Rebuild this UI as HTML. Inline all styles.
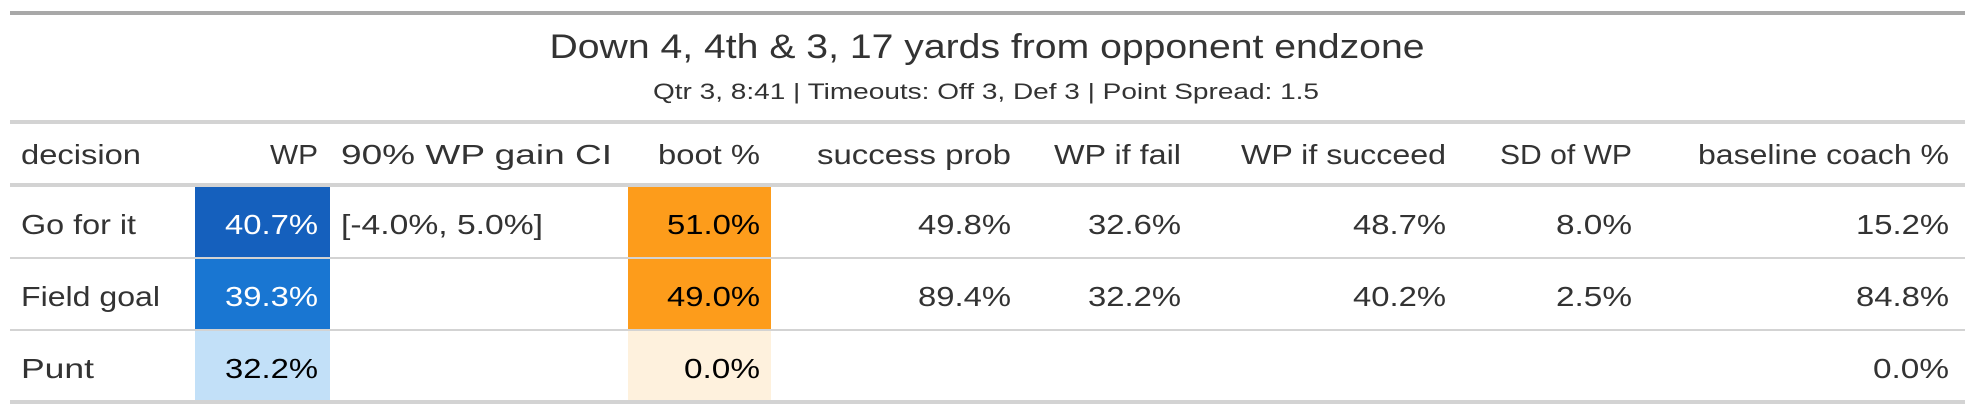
<!DOCTYPE html>
<html><head><meta charset="utf-8"><style>
html,body{margin:0;padding:0;background:#fff;}
svg{display:block;font-family:"Liberation Sans",Arial,sans-serif;}
</style></head><body>
<svg id="tbl" width="1972" height="412" viewBox="0 0 1972 412" xmlns="http://www.w3.org/2000/svg">
<rect x="10" y="11" width="1955" height="4" fill="#a8a8a8"/>
<text x="987" y="58" text-anchor="middle" font-size="34" fill="#333" textLength="875" lengthAdjust="spacingAndGlyphs">Down 4, 4th &amp; 3, 17 yards from opponent endzone</text>
<text x="986" y="99" text-anchor="middle" font-size="22" fill="#333" textLength="666" lengthAdjust="spacingAndGlyphs">Qtr 3, 8:41 | Timeouts: Off 3, Def 3 | Point Spread: 1.5</text>
<rect x="10" y="120" width="1955" height="4" fill="#d3d3d3"/>
<rect x="10" y="183" width="1955" height="4" fill="#d3d3d3"/>
<g id="cells"></g>
<g id="lines"></g>
<g id="texts"></g>
</svg>
<script>
const decisions = ["Go for it", "Field goal", "Punt"];
const wp = [40.7, 39.3, 32.2];
const ci = ["[-4.0%, 5.0%]", "", ""];
const boot = [51.0, 49.0, 0.0];
const successProb = [49.8, 89.4, null];
const wpFail = [32.6, 32.2, null];
const wpSucceed = [48.7, 40.2, null];
const sdWp = [8.0, 2.5, null];
const baselineCoach = [15.2, 84.8, 0.0];
const headers = ["decision","WP","90% WP gain CI","boot %","success prob","WP if fail","WP if succeed","SD of WP","baseline coach %"];

const NS = "http://www.w3.org/2000/svg";
const cellsG = document.getElementById('cells');
const linesG = document.getElementById('lines');
const textsG = document.getElementById('texts');
const rowTop = [187, 259, 331];
const rowBot = [257, 329, 400];
const rowBase = [234, 306, 378];
function pct(v){ return v.toFixed(1) + "%"; }
function wpColor(v){ if (v >= 40) return "#1560bd"; if (v >= 36) return "#1976d2"; return "#c2e0f8"; }
function bootColor(v){ return v >= 20 ? "#fd9c1b" : "#fef1dd"; }
function txt(s, x, y, anchor, fill, len, name){
  const t = document.createElementNS(NS, 'text');
  t.setAttribute('x', x); t.setAttribute('y', y);
  t.setAttribute('text-anchor', anchor); t.setAttribute('font-size', 28);
  t.setAttribute('fill', fill);
  if (len) { t.setAttribute('textLength', len); t.setAttribute('lengthAdjust', 'spacingAndGlyphs'); }
  
  
  t.textContent = s; textsG.appendChild(t);
}
function rect(x, y, w, h, fill, name, g){
  const r = document.createElementNS(NS, 'rect');
  r.setAttribute('x', x); r.setAttribute('y', y); r.setAttribute('width', w); r.setAttribute('height', h);
  r.setAttribute('fill', fill);
  
  
  g.appendChild(r);
}
function vlen(s){ return s.length >= 5 ? 93 : 76; }
const hx = [[21,'start',120],[318,'end',48],[341,'start',271],[760,'end',102],[1011,'end',194],[1181,'end',127],[1446,'end',205],[1632,'end',132],[1949,'end',251]];
headers.forEach((h,i)=> txt(h, hx[i][0], 164, hx[i][1], "#333", hx[i][2], 'header-' + h.replace(/[^a-z0-9]+/gi,'-').toLowerCase()));
const numCols = [[successProb,1011],[wpFail,1181],[wpSucceed,1446],[sdWp,1632],[baselineCoach,1949]];
decisions.forEach((d,i)=>{
  const y = rowBase[i];
  rect(195, rowTop[i], 135, rowBot[i]-rowTop[i], wpColor(wp[i]), 'wp-cell-' + i, cellsG);
  rect(628, rowTop[i], 143, rowBot[i]-rowTop[i], bootColor(boot[i]), 'boot-cell-' + i, cellsG);
  const dl = {"Go for it":115,"Field goal":139,"Punt":73}[d] || d.length*14;
  txt(d, 21, y, 'start', "#333", dl, 'decision-label-' + i);
  txt(pct(wp[i]), 318, y, 'end', wp[i] >= 36 ? "#fff" : "#000", vlen(pct(wp[i])), 'wp-value-' + i);
  if (ci[i]) txt(ci[i], 341, y, 'start', "#333", 202, 'ci-value-' + i);
  txt(pct(boot[i]), 760, y, 'end', "#000", vlen(pct(boot[i])), 'boot-value-' + i);
  numCols.forEach((c,j)=>{ const v = c[0][i]; if (v !== null) txt(pct(v), c[1], y, 'end', "#333", vlen(pct(v)), 'value-r' + i + '-c' + j); });
});
rect(10, 257, 1955, 2, "#d3d3d3", 'row-divider-1', linesG);
rect(10, 329, 1955, 2, "#d3d3d3", 'row-divider-2', linesG);
rect(10, 400, 1955, 4, "#d3d3d3", 'bottom-border', linesG);
</script>
</body></html>
